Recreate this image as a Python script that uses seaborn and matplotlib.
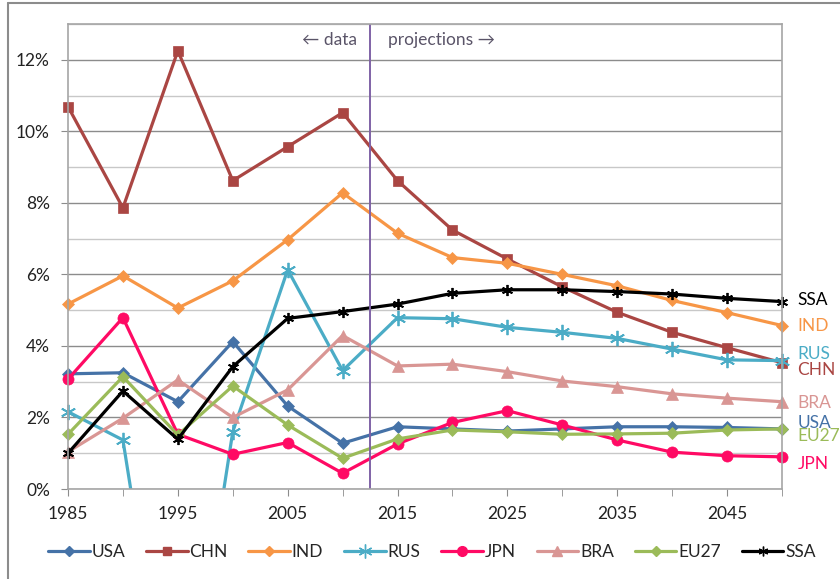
import pandas as pd
import numpy as np
import seaborn as sns
import matplotlib.pyplot as plt
from matplotlib.ticker import MultipleLocator, FuncFormatter
from matplotlib.lines import Line2D
from matplotlib.patches import Rectangle

# Values (growth rate, %)
years = [1985, 1990, 1995, 2000, 2005, 2010, 2015, 2020, 2025, 2030, 2035, 2040, 2045, 2050]
usa = [3.22, 3.25, 2.44, 4.12, 2.32, 1.28, 1.74, 1.68, 1.62, 1.68, 1.74, 1.74, 1.72, 1.68]
chn = [10.69, 7.86, 12.25, 8.62, 9.57, 10.52, 8.62, 7.24, 6.43, 5.65, 4.94, 4.38, 3.95, 3.53]
ind = [5.17, 5.96, 5.06, 5.82, 6.97, 8.28, 7.15, 6.47, 6.31, 6.00, 5.68, 5.27, 4.93, 4.57]
rus = [2.16, 1.37, -8.3, 1.60, 6.13, 3.31, 4.79, 4.76, 4.52, 4.38, 4.21, 3.91, 3.61, 3.59]
jpn = [3.07, 4.79, 1.53, 0.97, 1.30, 0.44, 1.26, 1.86, 2.19, 1.79, 1.37, 1.03, 0.93, 0.90]
bra = [1.04, 1.98, 3.05, 2.00, 2.77, 4.29, 3.44, 3.49, 3.28, 3.02, 2.86, 2.66, 2.54, 2.44]
eu27 = [1.53, 3.14, 1.51, 2.88, 1.79, 0.86, 1.40, 1.65, 1.60, 1.53, 1.54, 1.56, 1.65, 1.68]
ssa = [1.00, 2.74, 1.39, 3.42, 4.77, 4.96, 5.17, 5.47, 5.57, 5.57, 5.52, 5.45, 5.33, 5.24]
regions = ["USA", "CHN", "IND", "RUS", "JPN", "BRA", "EU27", "SSA"]
split_year = 2012.5

series = dict(zip(regions, [usa, chn, ind, rus, jpn, bra, eu27, ssa]))
rows = [(r, y, v) for r in regions for y, v in zip(years, series[r])]
df = pd.DataFrame(rows, columns=["region", "year", "growth"])

colours = {"USA": "#4572A7", "CHN": "#AA4643", "IND": "#F79646", "RUS": "#4BACC6",
           "JPN": "#FF0A64", "BRA": "#D99694", "EU27": "#9BBB59", "SSA": "#000000"}
markers = {"USA": "D", "CHN": "s", "IND": "D", "RUS": (6, 2, 0), "JPN": "o",
           "BRA": "^", "EU27": "D", "SSA": (6, 2, 0)}
msize = {"USA": 6, "CHN": 7, "IND": 6, "RUS": 11, "JPN": 8, "BRA": 8, "EU27": 6, "SSA": 8}
# label nudge (points) so the end labels don't collide
nudge = {"SSA": 1, "IND": 0, "RUS": 5, "CHN": -5, "BRA": -1, "USA": 4.5, "EU27": -5, "JPN": -5}
fs = 12.5

sns.set_style("white")
plt.rcParams['font.family'] = ['Lato', 'DejaVu Sans']

fig = plt.figure(figsize=(8.4, 5.79), dpi=100)
ax = fig.add_axes([68/840, 1-489/579, (782-68)/840, (489-24)/579])

for r in regions:
    sns.lineplot(data=df[df.region == r], x="year", y="growth", ax=ax,
                 color=colours[r], marker=markers[r], markersize=msize[r],
                 markeredgecolor=colours[r], markeredgewidth=1.3 if r in ("RUS", "SSA") else 0.5,
                 linewidth=2.3, label=r, legend=False)

# let end markers spill past the left/right edge, but keep the y clipping
clip = Rectangle((-0.03, 0), 1.06, 1.05, transform=ax.transAxes)
for ln in ax.lines:
    ln.set_clip_path(clip)

ax.set_xlim(1985, 2050)
ax.set_ylim(0, 13)
ax.set_xticks(range(1985, 2050, 10))
ax.xaxis.set_minor_locator(MultipleLocator(5))
ax.yaxis.set_major_locator(MultipleLocator(2))
ax.yaxis.set_minor_locator(MultipleLocator(1))
ax.yaxis.set_major_formatter(FuncFormatter(lambda v, p: f"{v:.0f}%"))
ax.grid(which="major", axis="y", color="#8c8c8c", linewidth=1)
ax.grid(which="minor", axis="y", color="#c8c8c8", linewidth=1)
ax.set_axisbelow(True)
ax.tick_params(axis="both", which="both", direction="out", length=5, color="#8c8c8c",
               labelsize=fs, labelcolor="#222222", left=True, bottom=True)
ax.tick_params(axis="y", which="minor", length=0)
ax.tick_params(axis="x", pad=7)
ax.tick_params(axis="y", pad=8)
for side in ["left", "bottom", "right", "top"]:
    ax.spines[side].set_color("#a6a6a6")
    ax.spines[side].set_linewidth(1.2)
ax.set_xlabel("")
ax.set_ylabel("")

# data / projections divider
ax.axvline(split_year, color="#7F62A6", linewidth=1.4)
ax.text(split_year - 1.2, 12.55, "← data", ha="right", va="center", fontsize=fs, color="#5a5468")
ax.text(split_year + 1.6, 12.55, "projections →", ha="left", va="center", fontsize=fs, color="#5a5468")

# end-of-line labels
for r in regions:
    ax.annotate(r, xy=(years[-1], series[r][-1]), xytext=(11, nudge[r]),
                textcoords="offset points", ha="left", va="center",
                fontsize=fs, color=colours[r], annotation_clip=False)

handles = [Line2D([], [], color=colours[r], marker=markers[r], markersize=msize[r] - 1,
                  markeredgecolor=colours[r], linewidth=2.3) for r in regions]
fig.legend(handles, regions, loc="center", bbox_to_anchor=(0.514, 1-552/579), ncol=8,
           frameon=False, fontsize=fs, handlelength=2.4, handletextpad=0.1,
           columnspacing=1.2)

# outer frame of the original chart box
fig.add_artist(Line2D([8/840, 8/840], [0, 1-3/579], color="#8c8c8c", linewidth=1.5))
fig.add_artist(Line2D([8/840, 1], [1-3/579, 1-3/579], color="#8c8c8c", linewidth=1.5))

fig.savefig("out.png", dpi=100)
